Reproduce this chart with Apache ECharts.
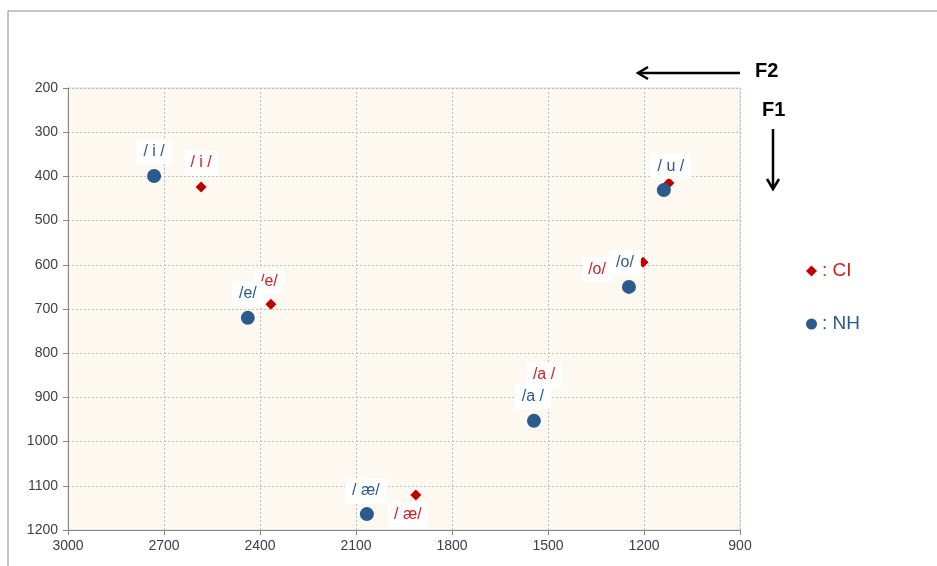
<!DOCTYPE html>
<html>
<head>
<meta charset="utf-8">
<script src="https://cdn.jsdelivr.net/npm/echarts@6/dist/echarts.min.js"></script>
<style>html,body{margin:0;padding:0;background:#fff;}#c{width:937px;height:566px;}</style>
</head>
<body>
<div id="c"></div>
<script>
// ---- data ----
const vowels = ['/ i /', '/e/', '/ æ/', '/a /', '/o/', '/ u /'];
const nhF2 = [2731, 2438, 2066, 1544, 1247, 1138];
const nhF1 = [399, 720, 1164, 953, 650, 431];
const ciF2 = [2584, 2366, 1913, 1525, 1203, 1122];
const ciF1 = [424, 689, 1121, 903, 594, 415];
const f2Ticks = [900, 1200, 1500, 1800, 2100, 2400, 2700, 3000];
const f1Ticks = [200, 300, 400, 500, 600, 700, 800, 900, 1000, 1100, 1200];

// ---- label placement (style, kept separate) ----
const nhOffsets = [[0,-24],[0,-24],[-1,-23],[-1,-24],[-4,-24],[7,-24]];
const ciOffsets = [[0,-24],[-2,-23],[-8,20],[4,-24],[-46,7],[2,-17]];

const BLUE = '#2b5a8c', RED = '#c00000', RED_TXT = '#d42020';
const FONT = '"Liberation Sans", Arial, sans-serif';

function build(f2, f1, offsets) {
  return f2.map((x, i) => ({
    value: [x, f1[i]],
    name: vowels[i],
    label: { offset: offsets[i] }
  }));
}

const chart = echarts.init(document.getElementById('c'));
chart.setOption({
  animation: false,
  grid: { left: 68, top: 88, right: 197, bottom: 36, show: true,
          backgroundColor: '#fef9f0', borderColor: '#d9d9d9', borderWidth: 1 },
  xAxis: {
    type: 'value', min: f2Ticks[0], max: f2Ticks[f2Ticks.length-1], interval: 300, inverse: true,
    axisLine: { show: true, onZero: false, lineStyle: { color: '#868686' } },
    axisTick: { show: true, length: 5, lineStyle: { color: '#868686' } },
    axisLabel: { color: '#404040', fontSize: 14, fontFamily: FONT, margin: 9, formatter: v => String(v) },
    splitLine: { show: true, lineStyle: { color: '#a9c1da', type: [2,2] } }
  },
  yAxis: {
    type: 'value', min: f1Ticks[0], max: f1Ticks[f1Ticks.length-1], interval: 100, inverse: true,
    axisLine: { show: true, onZero: false, lineStyle: { color: '#868686' } },
    axisTick: { show: true, length: 5, lineStyle: { color: '#868686' } },
    axisLabel: { color: '#404040', fontSize: 14, fontFamily: FONT, margin: 10, formatter: v => String(v) },
    splitLine: { show: true, lineStyle: { color: '#bfbfbf', type: [2,2] } }
  },
  legend: {
    orient: 'vertical', left: 801, top: 255, itemGap: 31,
    itemWidth: 11, itemHeight: 11,
    formatter: ': {name}',
    textStyle: { fontSize: 19, fontFamily: FONT, lineHeight: 22 },
    data: [
      { name: 'CI', icon: 'diamond', textStyle: { color: RED_TXT } },
      { name: 'NH', icon: 'circle', textStyle: { color: BLUE } }
    ]
  },
  series: [
    {
      name: 'CI', type: 'scatter', symbol: 'diamond', symbolSize: 11, z: 2,
      itemStyle: { color: RED, opacity: 1 },
      label: { show: true, position: 'inside', formatter: '{b}', color: RED_TXT,
               fontSize: 16, fontFamily: FONT, backgroundColor: '#ffffff', padding: [5,6,4,6] },
      data: build(ciF2, ciF1, ciOffsets)
    },
    {
      name: 'NH', type: 'scatter', symbol: 'circle', symbolSize: 14, z: 3,
      itemStyle: { color: BLUE, opacity: 1 },
      label: { show: true, position: 'inside', formatter: '{b}', color: BLUE,
               fontSize: 16, fontFamily: FONT, backgroundColor: '#ffffff', padding: [5,7,4,7] },
      data: build(nhF2, nhF1, nhOffsets)
    }
  ],
  graphic: [
    { type: 'rect', z: -10, silent: true, shape: { x: 8, y: 11, width: 1000, height: 700 },
      style: { fill: 'none', stroke: '#8c8c8c', lineWidth: 1 } },
    { type: 'line', shape: { x1: 740, y1: 73, x2: 640, y2: 73 },
      style: { stroke: '#000', lineWidth: 2.5 } },
    { type: 'polyline', shape: { points: [[648,67],[638,73],[648,79]] },
      style: { stroke: '#000', lineWidth: 2.5, fill: 'none' } },
    { type: 'text', left: 755, top: 61,
      style: { text: 'F2', font: 'bold 20px ' + FONT, fill: '#000' } },
    { type: 'text', left: 762, top: 100,
      style: { text: 'F1', font: 'bold 20px ' + FONT, fill: '#000' } },
    { type: 'line', shape: { x1: 773, y1: 129, x2: 773, y2: 187 },
      style: { stroke: '#000', lineWidth: 2.5 } },
    { type: 'polyline', shape: { points: [[767,179],[773,189],[779,179]] },
      style: { stroke: '#000', lineWidth: 2.5, fill: 'none' } }
  ]
});
</script>
</body>
</html>
